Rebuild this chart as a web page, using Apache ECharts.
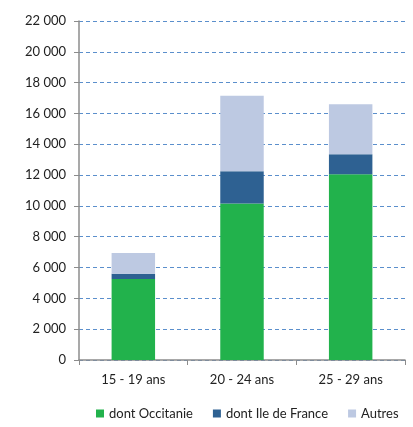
<!DOCTYPE html>
<html>
<head>
<meta charset="utf-8">
<script src="https://cdn.jsdelivr.net/npm/echarts@6/dist/echarts.min.js"></script>
<style>
  html, body { margin: 0; padding: 0; background: #ffffff; }
  #chart { width: 413px; height: 427px; }
</style>
</head>
<body>
<div id="chart"></div>
<script>
// Tranches d'âge et effectifs empilés par origine
const categories = ['15 - 19 ans', '20 - 24 ans', '25 - 29 ans'];
const occitanie = [5250, 10150, 12050];
const ileDeFrance = [350, 2100, 1300];
const autres = [1350, 4900, 3250];
const seriesNames = ['dont Occitanie', 'dont Ile de France', 'Autres'];
const seriesColors = ['#22b24c', '#2e6192', '#bdc9e2'];

const font = 'Lato, "Open Sans", sans-serif';
const chart = echarts.init(document.getElementById('chart'), null, { renderer: 'canvas' });

const values = [occitanie, ileDeFrance, autres];
chart.setOption({
  animation: false,
  textStyle: { fontFamily: font },
  grid: { left: 79, right: 8, top: 21, bottom: 67, containLabel: false },
  legend: {
    bottom: 2,
    left: 91,
    itemWidth: 8,
    itemHeight: 8,
    itemGap: 20,
    icon: 'rect',
    textStyle: { fontFamily: font, fontSize: 13, color: '#222' },
    data: seriesNames
  },
  xAxis: {
    type: 'category',
    data: categories,
    axisLine: { lineStyle: { color: '#8c8c8c', width: 1.5 } },
    axisTick: { show: true, alignWithLabel: false, length: 5, lineStyle: { color: '#8c8c8c' } },
    axisLabel: { color: '#222', fontSize: 13, margin: 13, fontFamily: font }
  },
  yAxis: {
    type: 'value',
    min: 0,
    max: 22000,
    interval: 2000,
    axisLine: { show: true, lineStyle: { color: '#8c8c8c', width: 1.5 } },
    axisTick: { show: true, length: 5, lineStyle: { color: '#8c8c8c' } },
    axisLabel: {
      color: '#222', fontSize: 13, margin: 13, fontFamily: font,
      formatter: v => v === 0 ? '0' : String(v).replace(/\B(?=(\d{3})+(?!\d))/g, ' ')
    },
    splitLine: { show: true, lineStyle: { color: '#5b8fcc', type: [4, 3], width: 1 } }
  },
  series: seriesNames.map((name, i) => ({
    name,
    type: 'bar',
    stack: 'total',
    barWidth: '40%',
    data: values[i],
    itemStyle: { color: seriesColors[i] }
  }))
});
</script>
</body>
</html>
